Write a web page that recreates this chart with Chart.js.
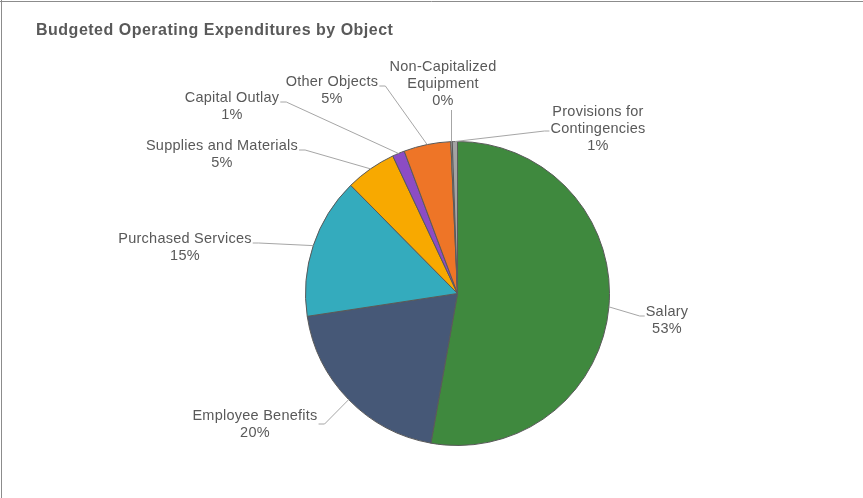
<!DOCTYPE html>
<html>
<head>
<meta charset="utf-8">
<script src="https://cdn.jsdelivr.net/npm/chart.js@4.4.1/dist/chart.umd.min.js"></script>
<style>
  html, body { margin: 0; padding: 0; background: #ffffff; }
  #wrap { position: relative; width: 863px; height: 498px; }
  canvas { display: block; }
</style>
</head>
<body>
<div id="wrap"><canvas id="chart" width="863" height="498"></canvas></div>
<script>
// Budget shares by object of expenditure (percent of total operating budget)
const categories = [
  'Salary',
  'Employee Benefits',
  'Purchased Services',
  'Supplies and Materials',
  'Capital Outlay',
  'Other Objects',
  'Non-Capitalized Equipment',
  'Provisions for Contingencies'
];
const shares = [52.8, 19.8, 15.0, 5.4, 1.3, 5.0, 0.15, 0.55];
const sliceColors = [
  '#3f893e', '#465877', '#34abbd', '#f8a900',
  '#8c4cc4', '#ee7527', '#c9c9c9', '#a3a3a3'
];
const chartTitle = 'Budgeted Operating Expenditures by Object';

// Where each data label sits (centre x, first-line centre y) and which side its leader leaves from
const labelLayout = [
  { cx: 667, cy: 312, side: 'left',   ly: 4 },
  { cx: 255, cy: 416, side: 'right',  ly: 8 },
  { cx: 185, cy: 239, side: 'right',  ly: 4 },
  { cx: 222, cy: 146, side: 'right',  ly: 4 },
  { cx: 232, cy: 98,  side: 'right',  ly: 4 },
  { cx: 332, cy: 82,  side: 'right',  ly: 4 },
  { cx: 443, cy: 67,  side: 'bottom', ly: 0, wrap: true },
  { cx: 598, cy: 112, side: 'left',   ly: 19, wrap: true }
];

const TEXT = '#595959';
const LEADER = '#a6a6a6';
const LABEL_FONT = '14.5px "Liberation Sans", Arial, sans-serif';
const LABEL_SPACING = '0.25px';
const LINE_H = 17;

function labelLines(i) {
  const name = categories[i];
  const total = shares.reduce((a, b) => a + b, 0);
  const pct = Math.round(shares[i] / total * 100) + '%';
  if (labelLayout[i].wrap) {
    const k = name.lastIndexOf(' ');
    return [name.slice(0, k), name.slice(k + 1), pct];
  }
  return [name, pct];
}

const frameAndTitle = {
  id: 'frameAndTitle',
  beforeDraw(chart) {
    const ctx = chart.ctx;
    ctx.save();
    ctx.fillStyle = '#ffffff';
    ctx.fillRect(0, 0, chart.width, chart.height);
    ctx.strokeStyle = '#8c8c8c';
    ctx.lineWidth = 1;
    ctx.beginPath();
    ctx.moveTo(0, 1.5); ctx.lineTo(chart.width, 1.5);
    ctx.moveTo(1.5, 0); ctx.lineTo(1.5, chart.height);
    ctx.stroke();
    ctx.fillStyle = TEXT;
    ctx.font = 'bold 16px "Liberation Sans", Arial, sans-serif';
    ctx.letterSpacing = '0.5px';
    ctx.textBaseline = 'middle';
    ctx.textAlign = 'left';
    ctx.fillText(chartTitle, 36, 31);
    ctx.restore();
  }
};

const leaderLabels = {
  id: 'leaderLabels',
  afterDatasetsDraw(chart) {
    const ctx = chart.ctx;
    const arcs = chart.getDatasetMeta(0).data;
    ctx.save();
    ctx.font = LABEL_FONT;
    ctx.letterSpacing = LABEL_SPACING;
    arcs.forEach((arc, i) => {
      const L = labelLayout[i];
      const lines = labelLines(i);
      const mid = (arc.startAngle + arc.endAngle) / 2;
      const px = arc.x + arc.outerRadius * Math.cos(mid);
      const py = arc.y + arc.outerRadius * Math.sin(mid);
      const w = Math.max(...lines.map(t => ctx.measureText(t).width));
      const left = L.cx - w / 2, right = L.cx + w / 2;

      ctx.strokeStyle = LEADER;
      ctx.lineWidth = 1;
      ctx.beginPath();
      if (L.side === 'right') {
        const y = L.cy + L.ly;
        ctx.moveTo(right + 1, y); ctx.lineTo(right + 7, y); ctx.lineTo(px, py);
      } else if (L.side === 'left') {
        const y = L.cy + L.ly;
        ctx.moveTo(left - 1, y); ctx.lineTo(left - 6, y); ctx.lineTo(px, py);
      } else {
        const y = L.cy + (lines.length - 1) * LINE_H + 9;
        ctx.moveTo(Math.round(px) - 0.5, y); ctx.lineTo(Math.round(px) - 0.5, py);
      }
      ctx.stroke();

      ctx.fillStyle = TEXT;
      ctx.textAlign = 'center';
      ctx.textBaseline = 'middle';
      lines.forEach((t, k) => ctx.fillText(t, L.cx, L.cy + k * LINE_H));
    });
    ctx.restore();
  }
};

new Chart(document.getElementById('chart'), {
  type: 'pie',
  data: {
    labels: categories,
    datasets: [{
      data: shares,
      backgroundColor: sliceColors,
      borderColor: '#5a5a5a',
      borderWidth: 1
    }]
  },
  options: {
    responsive: false,
    animation: false,
    layout: { padding: { left: 305, right: 253, top: 141, bottom: 52 } },
    plugins: {
      legend: { display: false },
      title: { display: false },
      tooltip: { enabled: false }
    }
  },
  plugins: [frameAndTitle, leaderLabels]
});
</script>
</body>
</html>
